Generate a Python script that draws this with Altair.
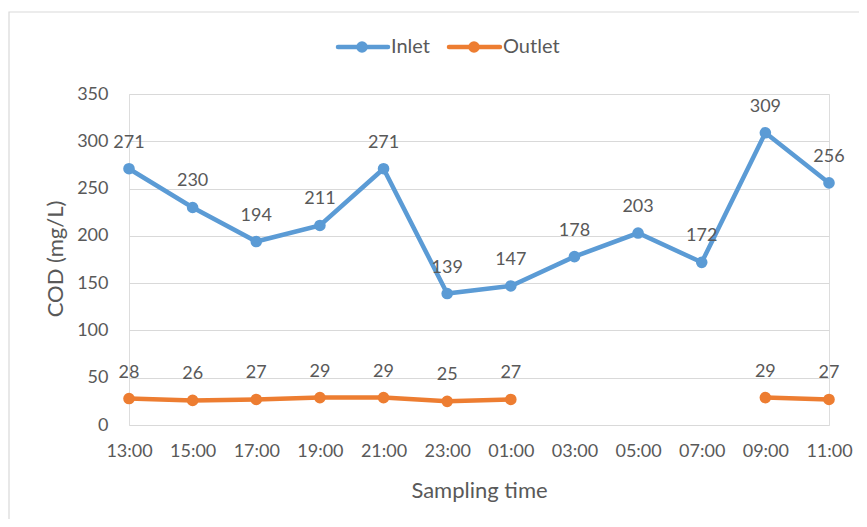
import altair as alt
import pandas as pd

times = ["13:00", "15:00", "17:00", "19:00", "21:00", "23:00", "01:00",
         "03:00", "05:00", "07:00", "09:00", "11:00"]
inlet = [271, 230, 194, 211, 271, 139, 147, 178, 203, 172, 309, 256]
outlet = [28, 26, 27, 29, 29, 25, 27, None, None, None, 29, 27]
series_names = ["Inlet", "Outlet"]
series_colors = ["#5B9BD5", "#ED7D31"]

rows = []
for name, vals in zip(series_names, [inlet, outlet]):
    for t, v in zip(times, vals):
        rows.append({"time": t, "series": name, "cod": v})
df = pd.DataFrame(rows)

FONT = "Lato"
GRAY = "#595959"
W, H = 700, 331
X0, Y0 = 129, 94  # page position of the plot origin

x_enc = alt.X("time:N", sort=times,
              scale=alt.Scale(type="point", padding=0),
              axis=alt.Axis(title="Sampling time", labelAngle=0, labelFontSize=18,
                            labelColor=GRAY, labelFont=FONT, labelPadding=17,
                            ticks=False, domain=False, grid=False,
                            titleFontSize=22, titleColor=GRAY, titleFont=FONT,
                            titleFontWeight="normal", titleX=W / 2, titleY=65,
                            titleBaseline="middle"))
y_enc = alt.Y("cod:Q", scale=alt.Scale(domain=[0, 350], nice=False),
              axis=alt.Axis(title="COD (mg/L)", values=list(range(0, 351, 50)),
                            labelFontSize=18, labelColor=GRAY, labelFont=FONT,
                            labelPadding=21, ticks=False, domain=False,
                            grid=True, gridColor="#D9D9D9", gridWidth=1.2,
                            titleFontSize=22, titleColor=GRAY, titleFont=FONT,
                            titleFontWeight="normal", titleX=-74, titleY=H / 2 - 1,
                            titleAngle=270, titleAlign="center",
                            titleBaseline="middle"))
color_enc = alt.Color("series:N", scale=alt.Scale(domain=series_names, range=series_colors),
                      legend=None)

base = alt.Chart(df).encode(x=x_enc, y=y_enc, color=color_enc)

lines = base.mark_line(strokeWidth=4.5)
points = base.mark_point(filled=True, size=135, opacity=1).transform_filter("isValid(datum.cod)")
labels = base.mark_text(dy=-21, fontSize=18, font=FONT, color=GRAY,
                        baseline="alphabetic").encode(
    text=alt.Text("cod:Q"), color=alt.value(GRAY)).transform_filter("isValid(datum.cod)")

# border of the chart area
border = alt.Chart(pd.DataFrame({"a": [0]})).mark_rect(
    fill=None, stroke="#D9D9D9", strokeWidth=1.2).encode(
    x=alt.value(9 - X0), x2=alt.value(W + 80), y=alt.value(12 - Y0), y2=alt.value(H + 120))

# custom legend
leg_parts = []
leg_pos = [(338, 388, 362, 391), (449, 500, 474, 503)]
for name, col, (x1, x2, xc, xt) in zip(series_names, series_colors, leg_pos):
    ly = 47 - Y0
    src = alt.Chart(pd.DataFrame({"s": [name]}))
    leg_parts.append(src.mark_rule(color=col, strokeWidth=4.5, strokeCap="round").encode(
        x=alt.value(x1 - X0), x2=alt.value(x2 - X0), y=alt.value(ly)))
    leg_parts.append(src.mark_point(filled=True, size=135, opacity=1, color=col).encode(
        x=alt.value(xc - X0), y=alt.value(ly)))
    leg_parts.append(src.mark_text(align="left", baseline="middle", fontSize=20,
                                   font=FONT, color=GRAY).encode(
        x=alt.value(xt - X0), y=alt.value(ly), text="s:N"))

chart = alt.layer(border, lines, points, labels, *leg_parts).properties(
    width=W, height=H,
    autosize=alt.AutoSizeParams(type="none"),
    padding={"left": X0 - 8, "top": Y0 - 8, "right": 851 - (X0 - 8) - W,
             "bottom": 511 - (Y0 - 8) - H},
).configure_view(stroke=None).configure(background="white")

chart.save("out.html", embed_options={"renderer": "svg", "actions": False})
